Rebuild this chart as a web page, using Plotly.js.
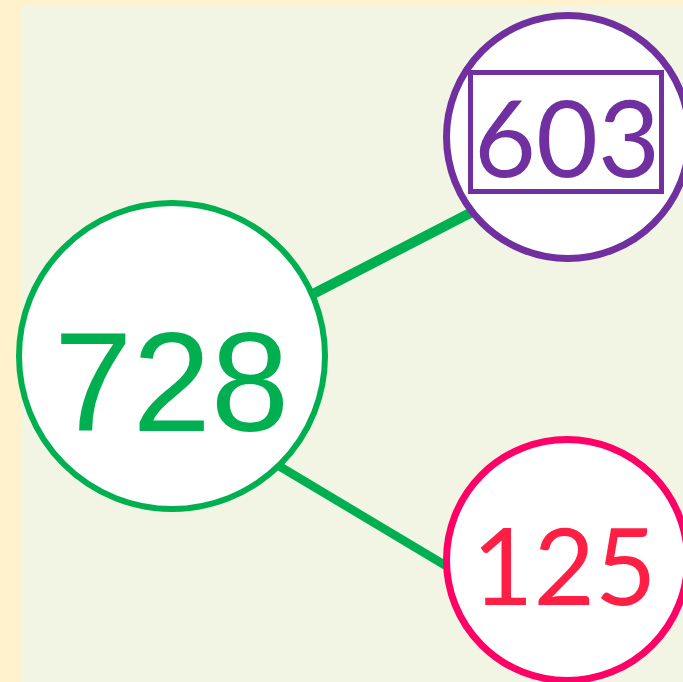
<!DOCTYPE html>
<html>
<head>
<meta charset="utf-8">
<script src="https://cdn.plot.ly/plotly-3.0.1.min.js"></script>
<style>html,body{margin:0;padding:0;background:#FFF2CC;}#chart{width:683px;height:682px;}</style>
</head>
<body>
<div id="chart"></div>
<script>
// ---- data ----
const nodeLabels = ['728', '603', '125'];
const edgeFrom = [0, 0];
const edgeTo = [1, 2];

// ---- layout (pixel-like coordinate frame) ----
const nodeX = [172, 568, 567];
const nodeY = [356, 137, 560];
const nodeDiam = [306, 243, 241];
const nodeLineW = [6, 7, 7];
const nodeStroke = ['#00B050', '#7030A0', '#FF0066'];
const textColor = ['#00B050', '#7030A0', '#FF1F45'];
const textFont = ['Liberation Sans, Arial, sans-serif', 'Lato, sans-serif', 'Lato, sans-serif'];
const textSize = [141, 107, 106];
const textX = [171, 567, 564];
const textY = [382, 135, 564];
const edgeStart = [[313, 294], [279, 466]];
const edgeEnd = [[476, 210], [448, 567]];
const edgeWidth = [10, 8.5];

const traces = [];
edgeFrom.forEach((f, i) => {
  traces.push({
    type: 'scatter', mode: 'lines',
    x: [edgeStart[i][0], edgeEnd[i][0]],
    y: [edgeStart[i][1], edgeEnd[i][1]],
    line: {color: nodeStroke[f], width: edgeWidth[i]},
    hoverinfo: 'skip', showlegend: false
  });
});
traces.push({
  type: 'scatter', mode: 'markers',
  x: nodeX, y: nodeY,
  marker: {size: nodeDiam, color: '#FFFFFF', opacity: 1,
           line: {color: nodeStroke, width: nodeLineW}},
  cliponaxis: false,
  hoverinfo: 'skip', showlegend: false
});

const annotations = nodeLabels.map((t, i) => ({
  x: textX[i], y: textY[i], xref: 'x', yref: 'y',
  text: t, showarrow: false, xanchor: 'center', yanchor: 'middle',
  font: {family: textFont[i], size: textSize[i], color: textColor[i]}
}));

const layout = {
  width: 683, height: 682, autosize: false,
  margin: {l: 21, r: 0, t: 6, b: 0, pad: 0},
  paper_bgcolor: '#FFF2CC',
  plot_bgcolor: '#F2F5E4',
  xaxis: {range: [21, 683], visible: false, fixedrange: true},
  yaxis: {range: [682, 6], visible: false, fixedrange: true},
  showlegend: false,
  annotations: annotations,
  shapes: [{
    type: 'rect', xref: 'x', yref: 'y',
    x0: 470.5, x1: 661.5, y0: 72.5, y1: 191.5,
    line: {color: '#7030A0', width: 5}, fillcolor: 'rgba(0,0,0,0)'
  }]
};

Plotly.newPlot('chart', traces, layout, {displayModeBar: false, staticPlot: true});
</script>
</body>
</html>
